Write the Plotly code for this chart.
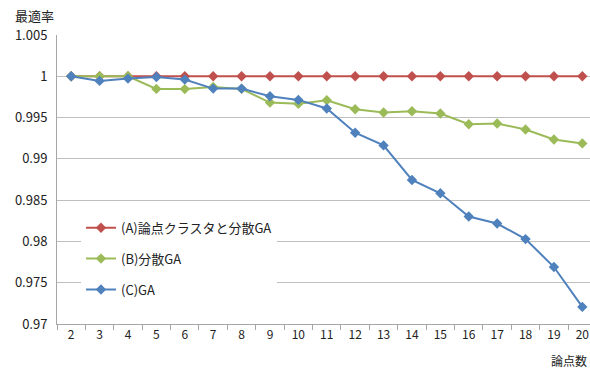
import plotly.graph_objects as go

# 論点数 (number of issues) on the category axis
points = ["2", "3", "4", "5", "6", "7", "8", "9", "10", "11",
          "12", "13", "14", "15", "16", "17", "18", "19", "20"]

# 最適率 (optimality ratio) for each method
series_a = [1.0] * 19
series_b = [1.0, 1.0, 1.0, 0.99847, 0.99845, 0.99871, 0.99847, 0.99682, 0.99666, 0.99710,
            0.99601, 0.99561, 0.99577, 0.99549, 0.99420, 0.99428, 0.99356, 0.99235, 0.99187]
series_c = [1.0, 0.99944, 0.99972, 0.99992, 0.99960, 0.99851, 0.99851, 0.99758, 0.99714, 0.99610,
            0.99316, 0.99163, 0.98744, 0.98583, 0.98301, 0.98217, 0.98028, 0.97690, 0.97207]

names = ["(A)論点クラスタと分散GA", "(B)分散GA", "(C)GA"]
colors = ["#C0504D", "#9BBB59", "#4F81BD"]

y_ticks = [0.97, 0.975, 0.98, 0.985, 0.99, 0.995, 1.0, 1.005]
y_labels = ["0.97", "0.975", "0.98", "0.985", "0.99", "0.995", "1", "1.005"]

FONT = "Noto Sans CJK JP"

fig = go.Figure()
for i, (name, vals, col) in enumerate(zip(names, [series_a, series_b, series_c], colors)):
    fig.add_trace(go.Scatter(
        x=points, y=vals, name=name, mode="lines+markers",
        line=dict(color=col, width=2),
        marker=dict(symbol="diamond", size=8, color=col),
        legendgroup=f"g{i}",
    ))

fig.update_layout(
    width=590, height=369,
    margin=dict(l=57, r=0, t=35, b=45),
    paper_bgcolor="white", plot_bgcolor="white",
    font=dict(family=FONT, size=12, color="#222222"),
    showlegend=True,
    legend=dict(
        x=0.045, y=0.385, xanchor="left", yanchor="top",
        bgcolor="white", borderwidth=0,
        font=dict(family=FONT, size=13, color="#222222"),
        traceorder="grouped", tracegroupgap=11,
        itemwidth=30,
    ),
    xaxis=dict(
        type="category", range=[-0.5, 18.27],
        tickson="boundaries", ticks="outside", ticklen=5, tickcolor="#A6A6A6",
        showgrid=False, showline=True, linecolor="#A6A6A6", linewidth=1,
        tickfont=dict(family=FONT, size=12, color="#222222"),
        zeroline=False,
    ),
    yaxis=dict(
        range=[0.97, 1.005], tickvals=y_ticks, ticktext=y_labels,
        showgrid=True, gridcolor="#BEBEBE", gridwidth=1,
        showline=True, linecolor="#A6A6A6", linewidth=1,
        ticks="", ticklabelstandoff=6,
        tickfont=dict(family=FONT, size=13, color="#222222"),
        zeroline=False,
    ),
)

# axis titles, placed relative to the plot area
plot_w = 590 - 57
plot_h = 369 - 35 - 45
fig.add_annotation(
    text="最適率", x=(34 - 57) / plot_w, y=(324 - 15) / plot_h,
    xref="paper", yref="paper", xanchor="center", yanchor="middle", showarrow=False,
    font=dict(family=FONT, size=13, color="#222222"))
fig.add_annotation(
    text="論点数", x=(569 - 57) / plot_w, y=(324 - 360) / plot_h,
    xref="paper", yref="paper", xanchor="center", yanchor="middle", showarrow=False,
    font=dict(family=FONT, size=12, color="#222222"))

fig.write_html("out.html")
